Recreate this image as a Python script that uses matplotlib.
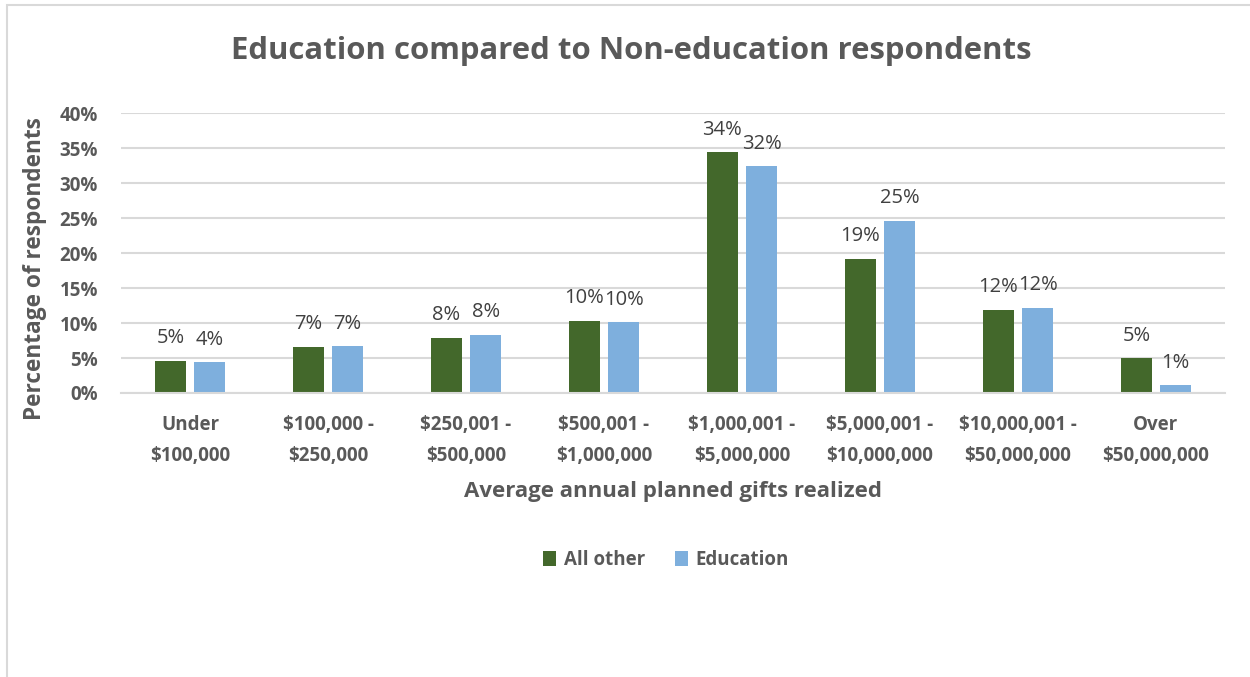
import os
import numpy as np
import matplotlib
matplotlib.use("Agg")
import matplotlib.pyplot as plt
from matplotlib import font_manager
from matplotlib.patches import Rectangle


def pick_family(candidates):
    # first family that actually ships a bold face
    for fam in candidates:
        try:
            path = font_manager.findfont(font_manager.FontProperties(family=fam, weight="bold"),
                                         fallback_to_default=False)
        except Exception:
            continue
        name = os.path.basename(path).lower()
        if "bold" in name:
            return fam
    return "DejaVu Sans"


family = pick_family(["Open Sans", "Noto Sans", "Lato", "Liberation Sans"])
plt.rcParams['font.family'] = [family, 'DejaVu Sans']

# gift ranges on the x axis
categories = ["Under\n$100,000", "$100,000 -\n$250,000", "$250,001 -\n$500,000",
              "$500,001 -\n$1,000,000", "$1,000,001 -\n$5,000,000", "$5,000,001 -\n$10,000,000",
              "$10,000,001 -\n$50,000,000", "Over\n$50,000,000"]
# percentage of respondents
all_other = [4.6, 6.6, 7.9, 10.3, 34.4, 19.2, 11.9, 5.0]
education = [4.4, 6.7, 8.3, 10.1, 32.4, 24.6, 12.2, 1.1]
series_names = ["All other", "Education"]
y_ticks = [0, 5, 10, 15, 20, 25, 30, 35, 40]

green = "#43682b"
blue = "#7eafdd"
text_col = "#595959"
grid_col = "#d9d9d9"

fig = plt.figure(figsize=(12.5, 6.77), dpi=100)
ax = fig.add_axes([0.0968, 0.4195, 0.8832, 0.4135])

x = np.arange(len(categories))
w = 0.225
off = 0.142
b1 = ax.bar(x - off, all_other, w, color=green, label=series_names[0], zorder=3)
b2 = ax.bar(x + off, education, w, color=blue, label=series_names[1], zorder=3)

for bars, vals in ((b1, all_other), (b2, education)):
    for rect, v in zip(bars, vals):
        ax.annotate(f"{round(v)}%", (rect.get_x() + rect.get_width() / 2, v),
                    xytext=(0, 9), textcoords="offset points",
                    ha="center", va="bottom", fontsize=14.5, color="#404040")

ax.set_xlim(-0.5, len(categories) - 0.5)
ax.set_ylim(0, 40)
ax.set_yticks(y_ticks)
ax.set_yticklabels([f"{t}%" for t in y_ticks])
ax.set_xticks(x)
ax.set_xticklabels(categories, linespacing=1.75)
ax.tick_params(axis="both", length=0, labelsize=13.5, labelcolor=text_col)
ax.tick_params(axis="y", pad=16.5)
ax.tick_params(axis="x", pad=15.5)
for lab in ax.get_xticklabels() + ax.get_yticklabels():
    lab.set_fontweight("bold")

ax.yaxis.grid(True, color=grid_col, linewidth=1.5, zorder=0)
for side in ("top", "right", "left"):
    ax.spines[side].set_visible(False)
ax.spines["bottom"].set_color(grid_col)
ax.spines["bottom"].set_linewidth(1.5)
ax.spines["bottom"].set_zorder(4)

fig.text(631 / 1250, 1 - 51 / 677, "Education compared to Non-education respondents",
         ha="center", va="center", fontsize=22.4, fontweight="bold", color=text_col)
fig.text(673 / 1250, 1 - 491 / 677, "Average annual planned gifts realized",
         ha="center", va="center", fontsize=16, fontweight="bold", color=text_col)
fig.text(35 / 1250, 1 - 269 / 677, "Percentage of respondents", rotation=90,
         ha="center", va="center", fontsize=16.3, fontweight="bold", color=text_col)

leg = fig.legend(loc="center", bbox_to_anchor=(666 / 1250, 1 - 560 / 677), ncol=2,
                 frameon=False, fontsize=13.5, handlelength=0.7, handleheight=0.9,
                 handletextpad=0.4, columnspacing=1.6)
for t in leg.get_texts():
    t.set_fontweight("bold")
    t.set_color(text_col)

# outer chart border
fig.patches.append(Rectangle((7 / 1250, -0.01), 1.0, 1 - 5 / 677 + 0.01,
                             transform=fig.transFigure, fill=False,
                             edgecolor=grid_col, linewidth=1.5))

fig.savefig("out.png", dpi=100)
